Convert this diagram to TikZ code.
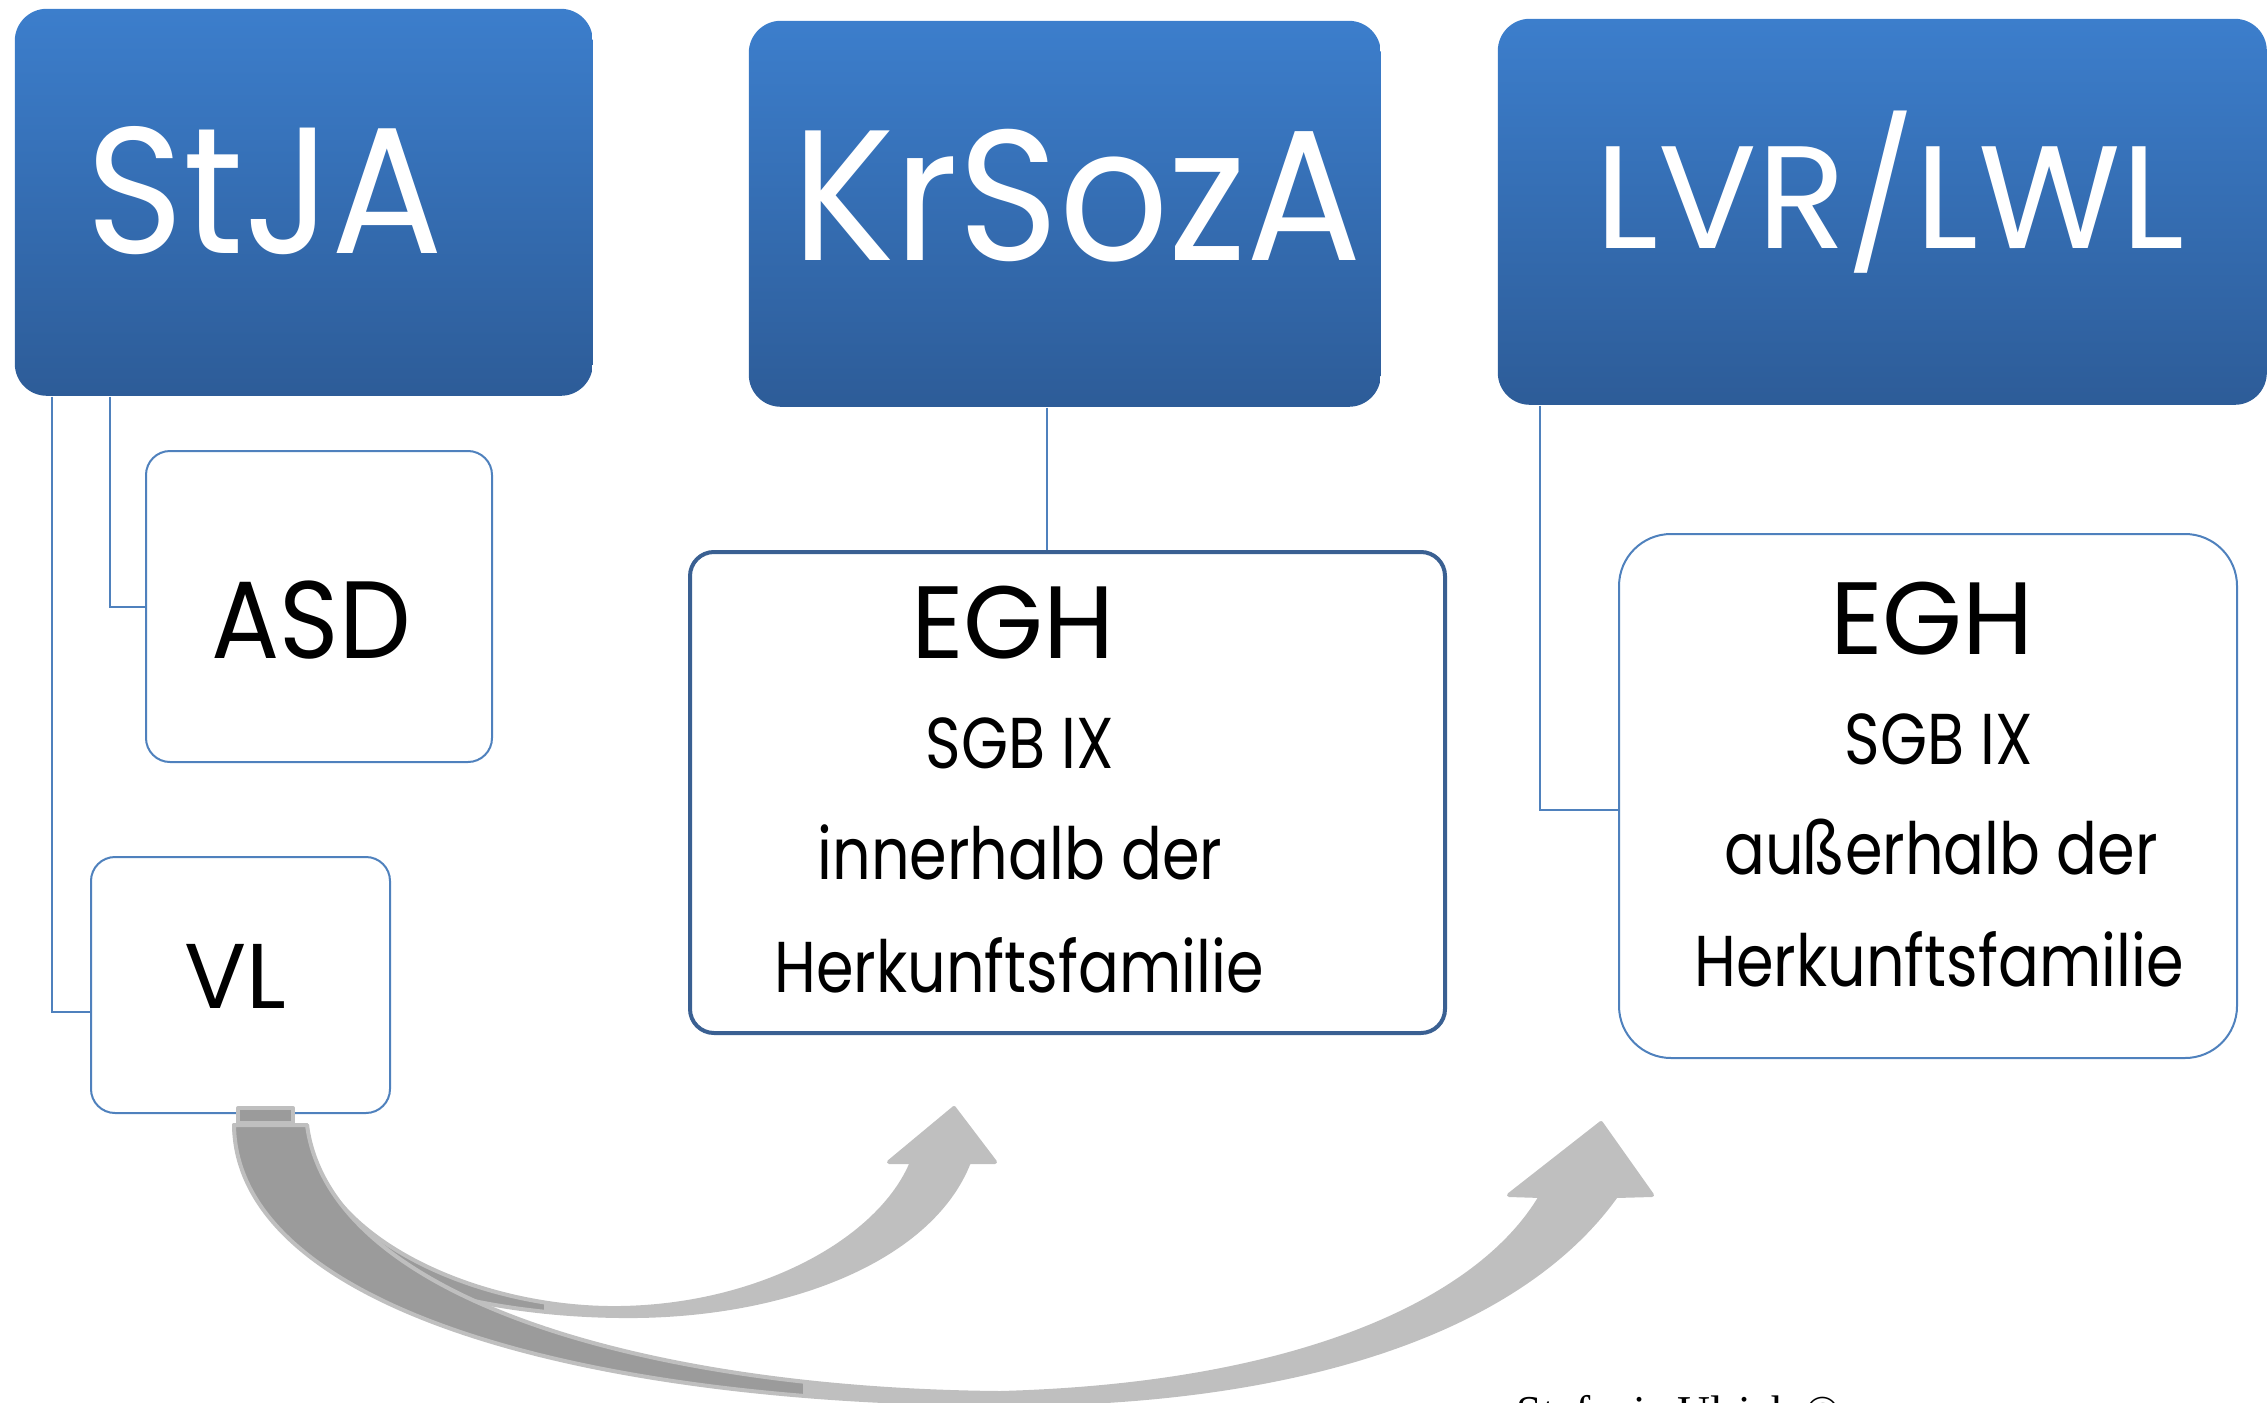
\documentclass[tikz,border=0pt]{standalone}
\usepackage{fontspec}
\setmainfont{Poppins}
\newfontfamily\narrowa[FakeStretch=0.84]{Poppins}
\newfontfamily\narrowb[FakeStretch=0.92]{Poppins}
\newfontfamily\signfont{Liberation Serif}

\definecolor{bluetop}{RGB}{60,126,204}
\definecolor{bluebot}{RGB}{45,92,152}
\definecolor{linkblue}{RGB}{79,129,189}
\definecolor{framedark}{RGB}{58,96,146}
\definecolor{arrowdark}{RGB}{155,155,155}
\definecolor{arrowlight}{RGB}{191,191,191}

\tikzset{
  headbox/.style={rectangle, rounded corners=8pt, top color=bluetop, bottom color=bluebot, inner sep=0pt, anchor=north west},
  subbox/.style={rectangle, rounded corners=6pt, draw=linkblue, line width=0.5pt, fill=white, inner sep=0pt, anchor=north west},
  link/.style={draw=linkblue, line width=0.5pt},
  headtxt/.style={anchor=base, inner sep=0pt, text=white},
  subtxt/.style={anchor=base, inner sep=0pt, text=black},
  arrowline/.style={draw=arrowlight, line width=1pt, line join=round},
}

% outlines of the two curved block arrows
\newcommand\pathshort{(234,1125) -- (307,1125) .. controls (312,1235) and (475,1310) .. (620,1308) .. controls (760,1306) and (880,1240) .. (912,1162) -- (889,1162) -- (954,1108) -- (995,1162) -- (969,1162) .. controls (930,1262) and (780,1318) .. (620,1316) .. controls (420,1314) and (240,1240) .. (234,1125) -- cycle}
\newcommand\pathlong{(234,1125) .. controls (236,1300) and (560,1402) .. (1000,1404) .. controls (1300,1405) and (1520,1330) .. (1616,1196) -- (1652,1195) -- (1601,1123) -- (1509,1195) -- (1541,1196) .. controls (1480,1300) and (1300,1385) .. (1000,1393) .. controls (650,1390) and (330,1300) .. (307,1125) -- cycle}

\begin{document}
\begin{tikzpicture}[x=0.25pt,y=-0.25pt]
\useasboundingbox (0,0) rectangle (2268,1402);

%Head boxes
\node[headbox, minimum width=144.5pt, minimum height=96.75pt] (stja) at (14,8) {};
\node[headbox, minimum width=158pt, minimum height=96.5pt] (krsoza) at (748,20) {};
\node[headbox, minimum width=192.25pt, minimum height=96.5pt] (lvr) at (1497,18) {};

%Sub boxes
\node[subbox, minimum width=86.5pt, minimum height=77.75pt] (asd) at (145,450) {};
\node[subbox, minimum width=74.75pt, minimum height=64pt] (vl) at (90,856) {};
\node[subbox, draw=framedark, line width=1pt, minimum width=188.75pt, minimum height=120.25pt] (eghin) at (688,550) {};
\node[subbox, rounded corners=13pt, minimum width=154.5pt, minimum height=131pt] (eghout) at (1618,533) {};

%Links
\draw[link] ([xshift=9.5pt]stja.south west) |- ([yshift=-6.75pt]vl.west);
\draw[link] ([xshift=24pt]stja.south west) |- (asd.west);
\draw[link] ([xshift=-4.5pt]krsoza.south) -- ([xshift=-4.5pt]krsoza.south |- eghin.north);
\draw[link] ([xshift=10.75pt]lvr.south west) |- ([yshift=-3.5pt]eghout.west);

% Text Node
\node[headtxt, font=\narrowb\fontsize{45}{54}\selectfont] (stjat) at (265,253) {StJA};
\node[headtxt, font=\narrowb\fontsize{46.5}{56}\selectfont] (krsozat) at (1077,260) {KrSozA};
\node[headtxt, font=\fontsize{36.5}{44}\selectfont] (lvrt) at (1890,249) {LVR/LWL};
\node[subtxt, font=\narrowb\fontsize{27.5}{33}\selectfont] (asdt) at (311,658) {ASD};
\node[subtxt, font=\fontsize{23}{28}\selectfont] (vlt) at (235,1008) {VL};
% Text Node
\node[subtxt, font=\fontsize{25.7}{31}\selectfont] (eghina) at (1013,658) {EGH};
\node[subtxt, font=\narrowa\fontsize{18}{22}\selectfont] (eghinb) at (1020,768) {SGB IX};
\node[subtxt, font=\narrowa\fontsize{18}{22}\selectfont] (eghinc) at (1020,879) {innerhalb der};
\node[subtxt, font=\narrowa\fontsize{18}{22}\selectfont] (eghind) at (1019,992) {Herkunftsfamilie};
% Text Node
\node[subtxt, font=\fontsize{25.7}{31}\selectfont] (eghouta) at (1932,654) {EGH};
\node[subtxt, font=\narrowa\fontsize{18}{22}\selectfont] (eghoutb) at (1939,764) {SGB IX};
\node[subtxt, font=\narrowa\fontsize{18}{22}\selectfont] (eghoutc) at (1941,874) {außerhalb der};
\node[subtxt, font=\narrowa\fontsize{18}{22}\selectfont] (eghoutd) at (1939,986) {Herkunftsfamilie};

%Block arrows
\fill[arrowlight] \pathshort;
\begin{scope}
  \clip \pathshort;
  \fill[arrowdark] (200,1080) rectangle (544,1420);
\end{scope}
\draw[arrowline] \pathshort;
\fill[arrowlight] \pathlong;
\begin{scope}
  \clip \pathlong;
  \fill[arrowdark] (200,1080) rectangle (803,1420);
\end{scope}
\draw[arrowline] \pathlong;
\draw[arrowline, fill=arrowdark] (238,1108) rectangle (293,1123);

% Text Node
\node[anchor=base west, inner sep=0pt, font=\signfont\fontsize{11.4}{13}\selectfont] (sign) at (1516,1427) {Stefanie Ulrich ©};

\end{tikzpicture}
\end{document}
